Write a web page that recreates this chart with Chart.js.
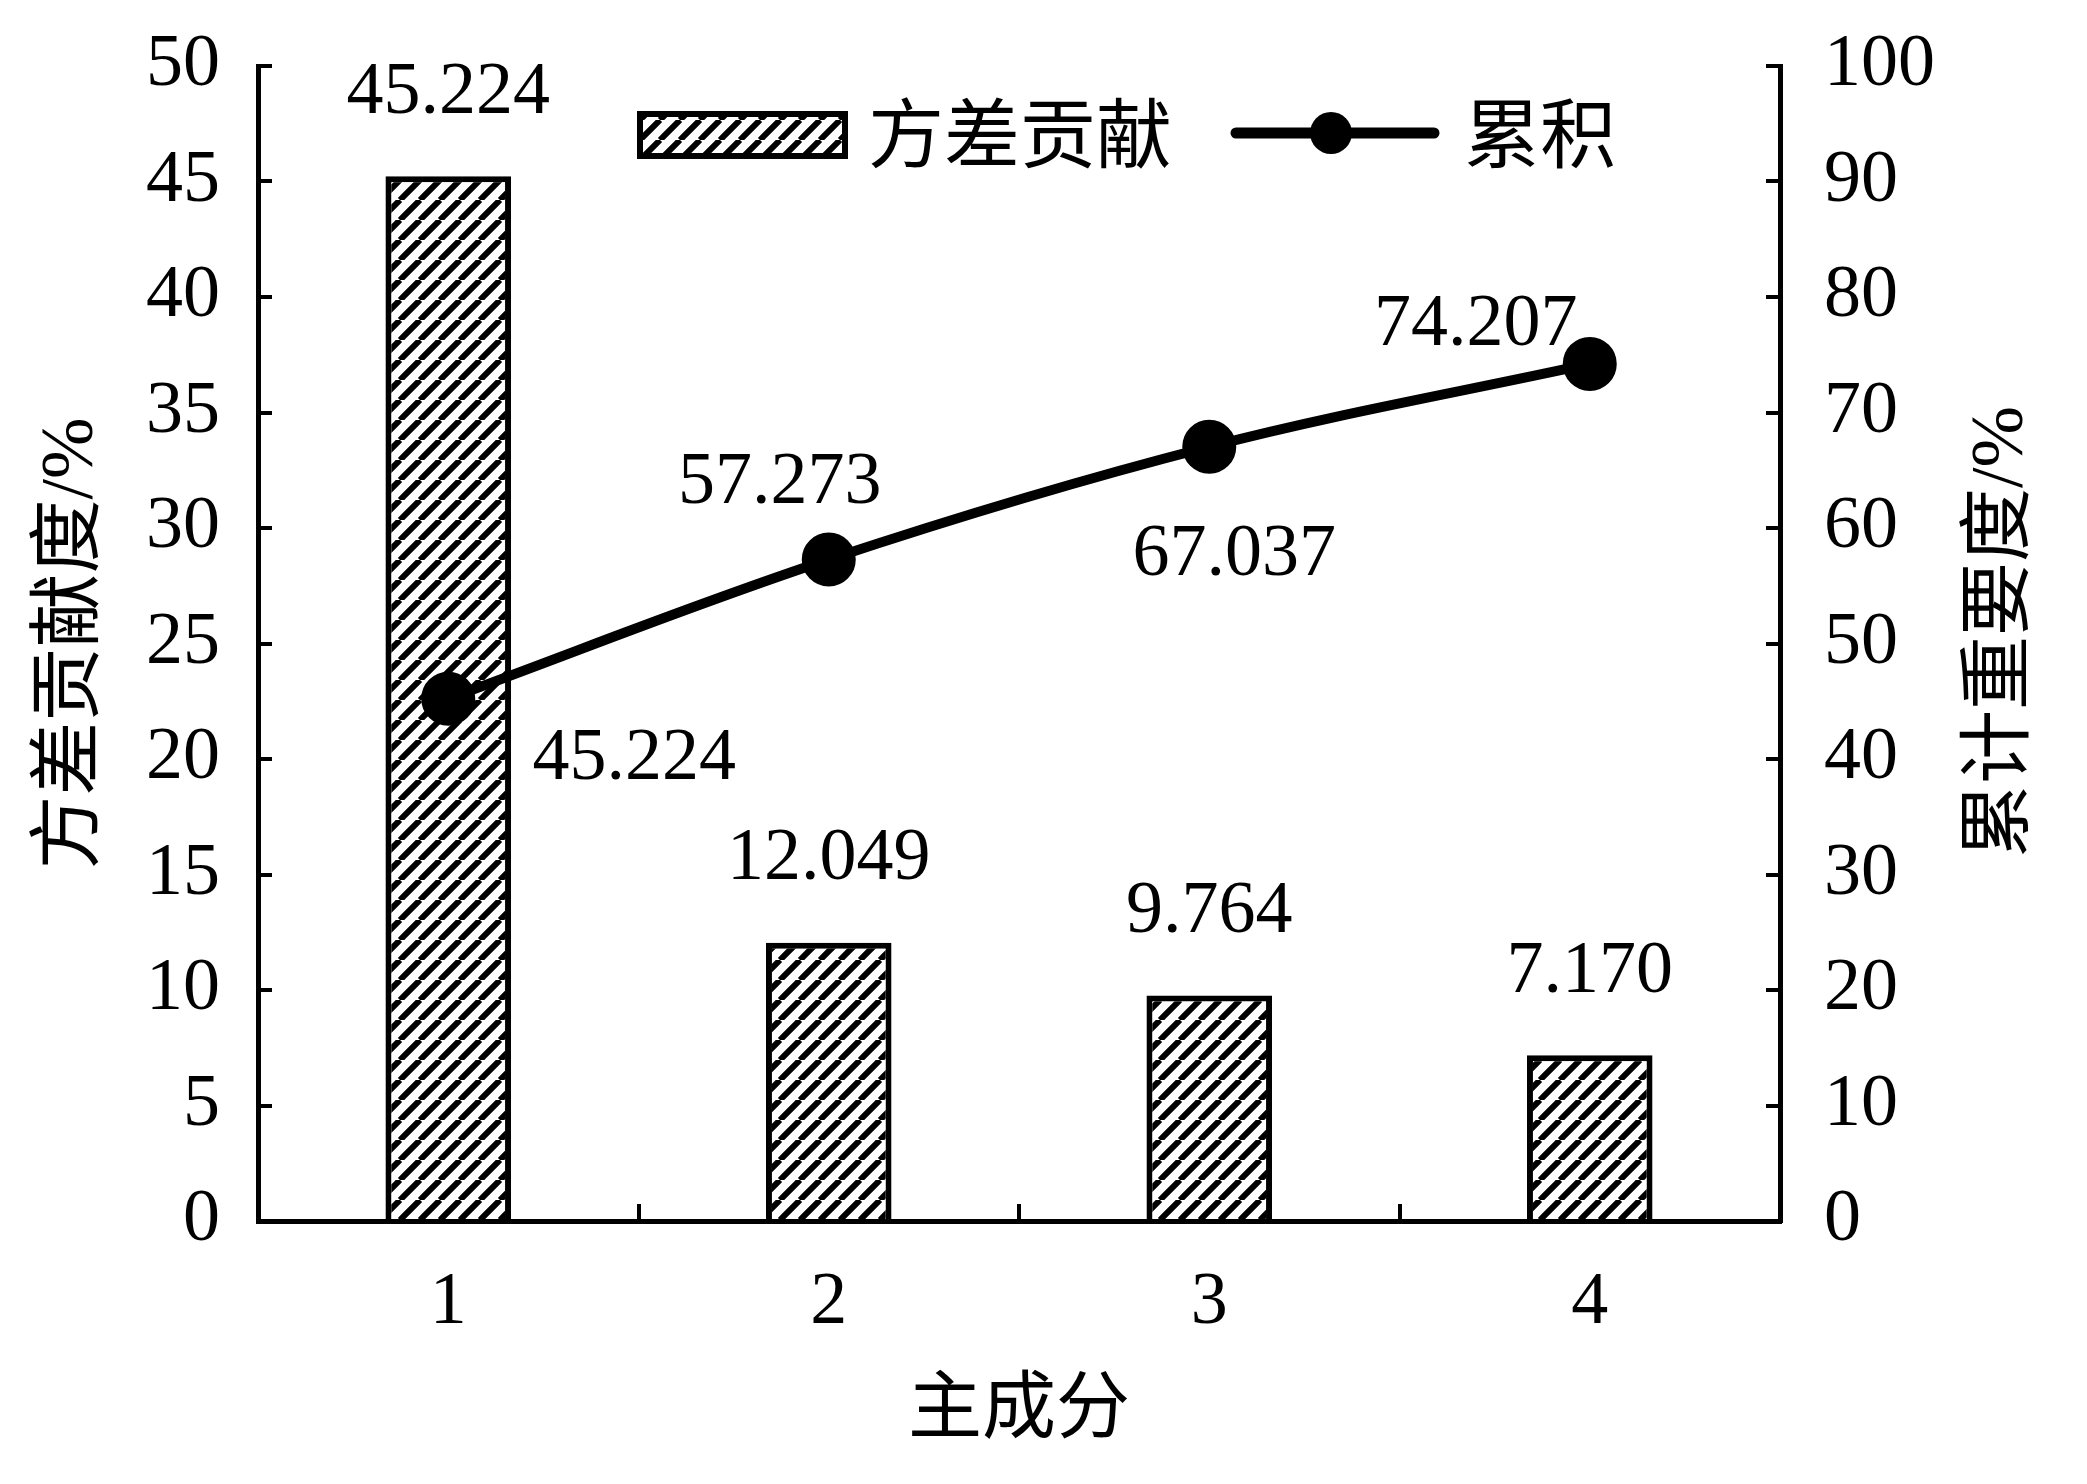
<!DOCTYPE html>
<html lang="zh">
<head>
    <meta charset="UTF-8">
    <title>主成分方差贡献</title>
    <script src="https://cdn.jsdelivr.net/npm/chart.js@4.4.1/dist/chart.umd.min.js"></script>
    <style>
        html, body { margin: 0; padding: 0; background: #fff; }
        #wrap { width: 2087px; height: 1484px; }
    </style>
</head>
<body>
<div id="wrap"><canvas id="pcaCanvas"></canvas></div>
<script>
    // data
    const components = ['1', '2', '3', '4'];
    const varianceContribution = [45.224, 12.049, 9.764, 7.170];   // bars, left axis
    const cumulative = [45.224, 57.273, 67.037, 74.207];             // line, right axis
    const leftAxis = { min: 0, max: 50, step: 5 };
    const rightAxis = { min: 0, max: 100, step: 10 };
    const seriesNames = ['方差贡献', '累积'];
    const xTitle = '主成分';
    const leftTitle = '方差贡献度/%';
    const rightTitle = '累计重要度/%';

    // where the line's value labels sit relative to their points (px)
    const cumLabelShift = [[186, 61], [-49, -76], [25, 109], [-114, -38]];

    const serif = "'Liberation Serif', 'Times New Roman', serif";
    const mixed = "'Liberation Serif', 'Noto Sans CJK SC', serif";
    const cjk = "'Noto Sans CJK SC', sans-serif";

    const ctx = document.getElementById('pcaCanvas').getContext('2d');

    // diagonal hatch fill for the bars
    function makeHatch() {
        const w = 20, h = 20;
        const c = document.createElement('canvas');
        c.width = w; c.height = h;
        const g = c.getContext('2d');
        g.fillStyle = '#fff';
        g.fillRect(0, 0, w, h);
        g.strokeStyle = '#000';
        g.lineWidth = 6;
        g.beginPath();
        for (let k = -1; k <= 1; k++) {
            g.moveTo(k * w, h);
            g.lineTo(k * w + w, 0);
        }
        g.stroke();
        return ctx.createPattern(c, 'repeat');
    }
    const hatch = makeHatch();

    const extras = {
        id: 'extras',
        afterDatasetsDraw(chart) {
            const c = chart.ctx;
            c.save();
            c.fillStyle = '#000';
            c.textAlign = 'center';
            c.textBaseline = 'middle';
            c.font = '74px ' + serif;
            chart.getDatasetMeta(0).data.forEach((bar, i) => {
                c.fillText(varianceContribution[i].toFixed(3), bar.x, bar.y - 83);
            });
            chart.getDatasetMeta(1).data.forEach((pt, i) => {
                c.fillText(cumulative[i].toFixed(3), pt.x + cumLabelShift[i][0], pt.y + cumLabelShift[i][1]);
            });

            // legend
            c.fillStyle = hatch;
            c.fillRect(640, 114, 205, 42);
            c.strokeStyle = '#000';
            c.lineWidth = 6;
            c.strokeRect(640, 114, 205, 42);
            c.beginPath();
            c.lineCap = 'round';
            c.lineWidth = 11;
            c.moveTo(1236, 133);
            c.lineTo(1434, 133);
            c.stroke();
            c.beginPath();
            c.fillStyle = '#000';
            c.arc(1331, 133, 21, 0, Math.PI * 2);
            c.fill();
            c.font = '76px ' + cjk;
            c.textAlign = 'left';
            c.fillText(seriesNames[0], 868, 133);
            c.fillText(seriesNames[1], 1464, 133);

            // right axis title reads bottom-to-top like the left one
            c.translate(2003, 632);
            c.rotate(-Math.PI / 2);
            c.textAlign = 'center';
            c.font = '74px ' + mixed;
            c.fillText(rightTitle, 0, 0);
            c.restore();
        }
    };

    const axisLine = { color: '#000', width: 5 };
    const inwardTicks = { drawOnChartArea: false, drawTicks: true, tickLength: -14, color: '#000', lineWidth: 4 };
    // small lineHeight keeps the top tick label from pushing the plot down
    const yTickFont = { family: serif, size: 74, lineHeight: 0.1 };

    const pcaChart = new Chart(ctx, {
        type: 'bar',
        data: {
            labels: components,
            datasets: [{
                type: 'bar',
                label: seriesNames[0],
                data: varianceContribution,
                yAxisID: 'y',
                backgroundColor: hatch,
                borderColor: '#000',
                borderWidth: 6,
                barPercentage: 0.33,
                categoryPercentage: 1,
                order: 1
            }, {
                type: 'line',
                label: seriesNames[1],
                data: cumulative,
                yAxisID: 'y1',
                borderColor: '#000',
                borderWidth: 10,
                backgroundColor: '#000',
                pointRadius: 22,
                pointBackgroundColor: '#000',
                pointBorderColor: '#000',
                tension: 0.35,
                fill: false,
                order: 0
            }]
        },
        options: {
            responsive: true,
            maintainAspectRatio: false,
            animation: false,
            layout: { padding: { top: 66, left: 0, right: 0, bottom: 0 } },
            plugins: {
                legend: { display: false },
                tooltip: { enabled: false }
            },
            scales: {
                x: {
                    afterFit(s) { s.height = 263; },
                    border: axisLine,
                    grid: Object.assign({}, inwardTicks, { tickLength: -17, offset: true }),
                    ticks: { color: '#000', font: { family: serif, size: 74 }, padding: 55, maxRotation: 0, autoSkip: false },
                    title: { display: true, text: xTitle, color: '#000', font: { family: cjk, size: 74 }, padding: { top: 0, bottom: 36 } }
                },
                y: {
                    position: 'left',
                    min: leftAxis.min, max: leftAxis.max,
                    afterFit(s) { s.width = 258; },
                    border: axisLine,
                    grid: inwardTicks,
                    ticks: { stepSize: leftAxis.step, color: '#000', font: yTickFont, padding: 52 },
                    title: { display: true, text: leftTitle, color: '#000', font: { family: mixed, size: 74 }, padding: { top: 28, bottom: 28 } }
                },
                y1: {
                    position: 'right',
                    min: rightAxis.min, max: rightAxis.max,
                    afterFit(s) { s.width = 307; },
                    border: axisLine,
                    grid: inwardTicks,
                    ticks: { stepSize: rightAxis.step, color: '#000', font: yTickFont, padding: 58 }
                }
            }
        },
        plugins: [extras]
    });
</script>
</body>
</html>
